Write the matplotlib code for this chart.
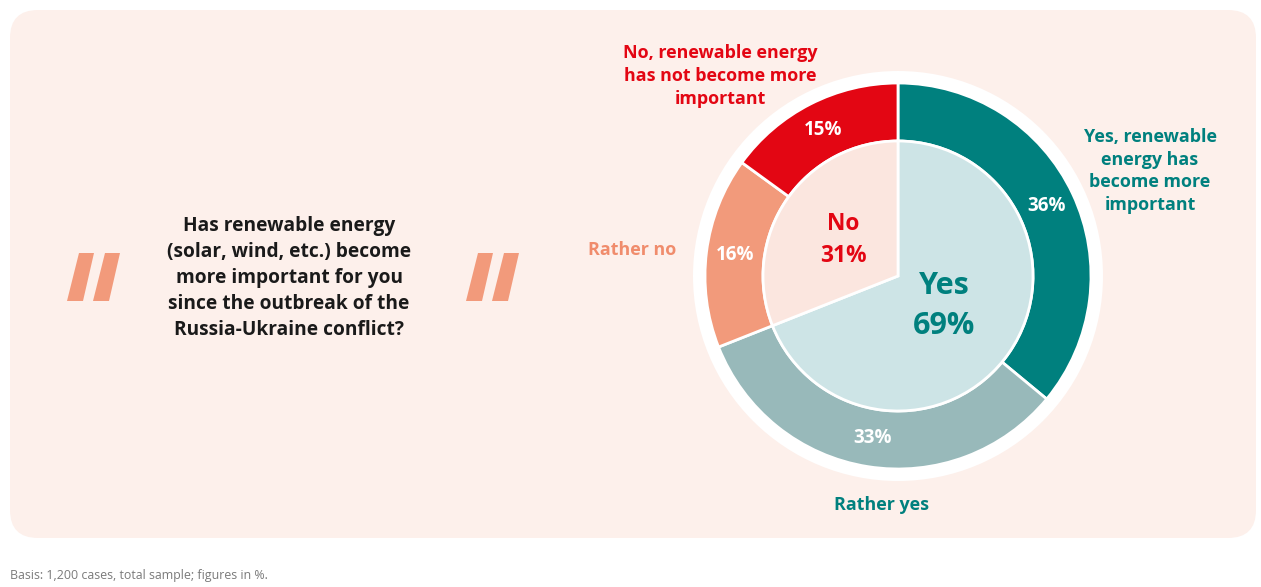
import numpy as np
import matplotlib.pyplot as plt
from matplotlib.patches import FancyBboxPatch, Polygon, Circle

plt.rcParams['font.family'] = ['Open Sans', 'DejaVu Sans']

# survey answers, outer ring (clockwise from 12 o'clock)
answers = ['Yes, renewable energy has become more important', 'Rather yes',
           'Rather no', 'No, renewable energy has not become more important']
shares = [36, 33, 16, 15]
ring_colors = ['#00807e', '#98b9ba', '#f29a7b', '#e30613']

# aggregated inner pie
groups = ['Yes', 'No']
group_shares = [69, 31]
group_colors = ['#cde4e6', '#fbe6df']
group_text_colors = ['#00807e', '#e30613']

question = ('Has renewable energy\n(solar, wind, etc.) become\nmore important for you\n'
            'since the outbreak of the\nRussia-Ukraine conflict?')
note = 'Basis: 1,200 cases, total sample; figures in %.'

W, H = 1261, 587
fig = plt.figure(figsize=(W / 100, H / 100), dpi=100)
fig.patch.set_facecolor('white')

# background layer in pixel coordinates
bg = fig.add_axes([0, 0, 1, 1])
bg.set_xlim(0, W)
bg.set_ylim(H, 0)
bg.axis('off')
bg.add_patch(FancyBboxPatch((10, 10), 1246, 528, boxstyle='round,pad=0,rounding_size=28',
                            fc='#fdf0eb', ec='none'))

# big slanted quote marks
quote_color = '#f29a7b'
for x0 in (67, 466):
    for dx in (0, 26):
        bx = x0 + dx
        bg.add_patch(Polygon([(bx, 301), (bx + 16, 301), (bx + 27, 253), (bx + 12, 253)],
                             closed=True, fc=quote_color, ec='none'))

bg.text(289, 278, question, ha='center', va='center', fontsize=13.8, fontweight='bold',
        color='#1a1a1a', linespacing=1.4)
bg.text(10, 576, note, ha='left', va='center', fontsize=8.9, color='#7a7a7a')

# outside category labels
label_size = 12.9
bg.text(720, 76, 'No, renewable energy\nhas not become more\nimportant', ha='center', va='center',
        fontsize=label_size, fontweight='bold', color=ring_colors[3], linespacing=1.34)
bg.text(1150, 171, 'Yes, renewable\nenergy has\nbecome more\nimportant', ha='center', va='center',
        fontsize=label_size, fontweight='bold', color=ring_colors[0], linespacing=1.34)
bg.text(632, 250, 'Rather no', ha='center', va='center', fontsize=label_size, fontweight='bold',
        color='#f08c6c')
bg.text(882, 505, 'Rather yes', ha='center', va='center', fontsize=label_size, fontweight='bold',
        color=ring_colors[0])

# donut axes, radius units in pixels
cx, cy, R = 898, 276, 212
ax = fig.add_axes([(cx - R) / W, (H - cy - R) / H, 2 * R / W, 2 * R / H])
ax.set_xlim(-R, R)
ax.set_ylim(-R, R)
ax.set_aspect('equal')
ax.axis('off')

ax.add_patch(Circle((0, 0), 205, fc='white', ec='none'))

outer_r, inner_r = 193, 135
wedges, _, pcts = ax.pie(shares, radius=outer_r, colors=ring_colors, startangle=90,
                         counterclock=False, autopct='%d%%',
                         pctdistance=(outer_r - 29) / outer_r,
                         wedgeprops=dict(width=outer_r - inner_r, edgecolor='white', linewidth=2),
                         textprops=dict(color='white', fontsize=13.5, fontweight='bold'))

ax.pie(group_shares, radius=inner_r, colors=group_colors, startangle=90, counterclock=False,
       wedgeprops=dict(edgecolor='white', linewidth=2))

# inner labels
ax.text(46, -30, f'{groups[0]}\n{group_shares[0]}%', ha='center', va='center', fontsize=22,
        fontweight='bold', color=group_text_colors[0], linespacing=1.4)
ax.text(-55, 36, f'{groups[1]}\n{group_shares[1]}%', ha='center', va='center', fontsize=16.4,
        fontweight='bold', color=group_text_colors[1], linespacing=1.45)

ax.set_xlim(-R, R)
ax.set_ylim(-R, R)

fig.savefig('out.png', dpi=100, facecolor='white')
